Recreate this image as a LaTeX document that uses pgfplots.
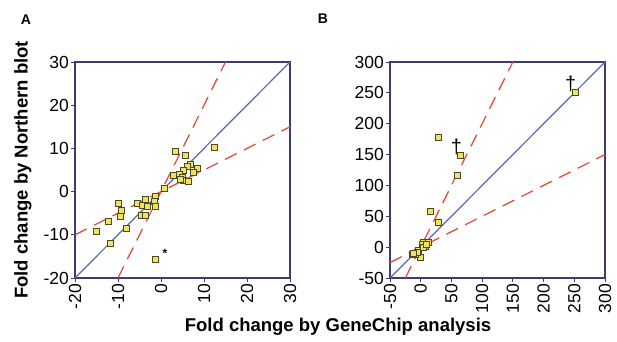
\documentclass[border=0pt]{standalone}
\usepackage{pgfplots}
\pgfplotsset{compat=1.18}
\usepackage{fontspec}
\setmainfont{Liberation Sans}
\definecolor{framec}{HTML}{3C3C70}
\definecolor{diagc}{HTML}{5A68B0}
\definecolor{dashc}{HTML}{E0503C}
\definecolor{mfill}{HTML}{F0E25A}
\definecolor{mdraw}{HTML}{4A4A2A}
\pgfplotsset{
  panel/.style={
    scale only axis, width=215pt, height=216pt,
    axis line style={framec, line width=1.2pt},
    tick align=outside, major tick length=4pt,
    tick style={framec, line width=0.9pt},
    xtick pos=bottom, ytick pos=left,
    ticklabel style={font=\fontsize{17.5}{18}\selectfont, text=black},
    xticklabel style={rotate=90, anchor=east, inner sep=2pt},
    yticklabel style={inner sep=2pt},
    clip=false,
  },
  pts/.style={only marks, mark=square*, mark size=3pt,
    mark options={fill=mfill, draw=mdraw, line width=0.8pt}},
  dl/.style={dashc, line width=1.3pt, dash pattern=on 13pt off 8pt},
}
\begin{document}
\begin{tikzpicture}
\path[use as bounding box] (0,0) rectangle (617pt,341pt);
% Panel A
\begin{axis}[panel, at={(75pt,63pt)}, anchor=south west,
  xmin=-20, xmax=30, ymin=-20, ymax=30,
  xtick={-20,-10,0,10,20,30}, xticklabels={-20,-10,0,10,20,30},
  ytick={-20,-10,0,10,20,30}, yticklabels={-20,-10,0,10,20,30}]
\addplot[diagc, line width=1.2pt] coordinates {(-20,-20) (30,30)};
\addplot[dl] coordinates {(-20,-10) (30,15)};
\addplot[dl] coordinates {(-10,-20) (15,30)};
\addplot[pts] coordinates {
(3.3,9.4) (5.6,8.3) (12.5,10.2) (6.9,6.4) (6.2,5.8) (8.5,5.4) (7.5,4.5)
(5.2,4.8) (4.2,4.0) (2.8,3.8) (5.0,3.2) (5.2,2.5) (6.3,2.3) (4.5,2.8)
(0.8,0.8) (-1.2,-1.2) (-3.6,-1.9) (-1.5,-2.3) (-5.6,-2.8) (-4.4,-3.1)
(-3.1,-3.5) (-1.2,-3.4) (-9.8,-2.8) (-9.1,-4.4) (-9.5,-5.7) (-4.6,-5.4)
(-3.6,-5.5) (-12.3,-6.8) (-15,-9.1) (-8.1,-8.6) (-11.7,-11.9) (-1.2,-15.6)
};
\node[font=\bfseries\fontsize{12}{12}\selectfont] at (axis cs:0.9,-14.2) {*};
\end{axis}
% Panel B
\begin{axis}[panel, at={(390pt,63pt)}, anchor=south west,
  xmin=-50, xmax=300, ymin=-50, ymax=300,
  xtick={-50,0,50,100,150,200,250,300}, xticklabels={-50,0,50,100,150,200,250,300},
  ytick={-50,0,50,100,150,200,250,300}, yticklabels={-50,0,50,100,150,200,250,300}]
\addplot[diagc, line width=1.2pt] coordinates {(-50,-50) (300,300)};
\addplot[dl] coordinates {(-50,-25) (300,150)};
\addplot[dl] coordinates {(-25,-50) (150,300)};
\addplot[pts] coordinates {
(251,250) (28,178) (65,149) (60,116) (16,58) (29,40)
(5,8) (12,7) (8,2) (3,5) (-1,-17) (-9,-11) (-14,-12) (-4,-6) (-6,-9)
(-12,-10) (5,-1) (10,4)
};
\node[font=\fontsize{20}{20}\selectfont] at (axis cs:244,264) {†};
\node[font=\fontsize{20}{20}\selectfont] at (axis cs:58,163) {†};
\end{axis}
\node[font=\bfseries\fontsize{14}{14}\selectfont] at (26pt,321pt) {A};
\node[font=\bfseries\fontsize{14}{14}\selectfont] at (323pt,322pt) {B};
\node[font=\bfseries\fontsize{18.5}{19}\selectfont] at (338pt,14pt) {Fold change by GeneChip analysis};
\node[font=\bfseries\fontsize{18.5}{19}\selectfont, rotate=90] at (23pt,171pt) {Fold change by Northern blot};
\end{tikzpicture}
\end{document}
